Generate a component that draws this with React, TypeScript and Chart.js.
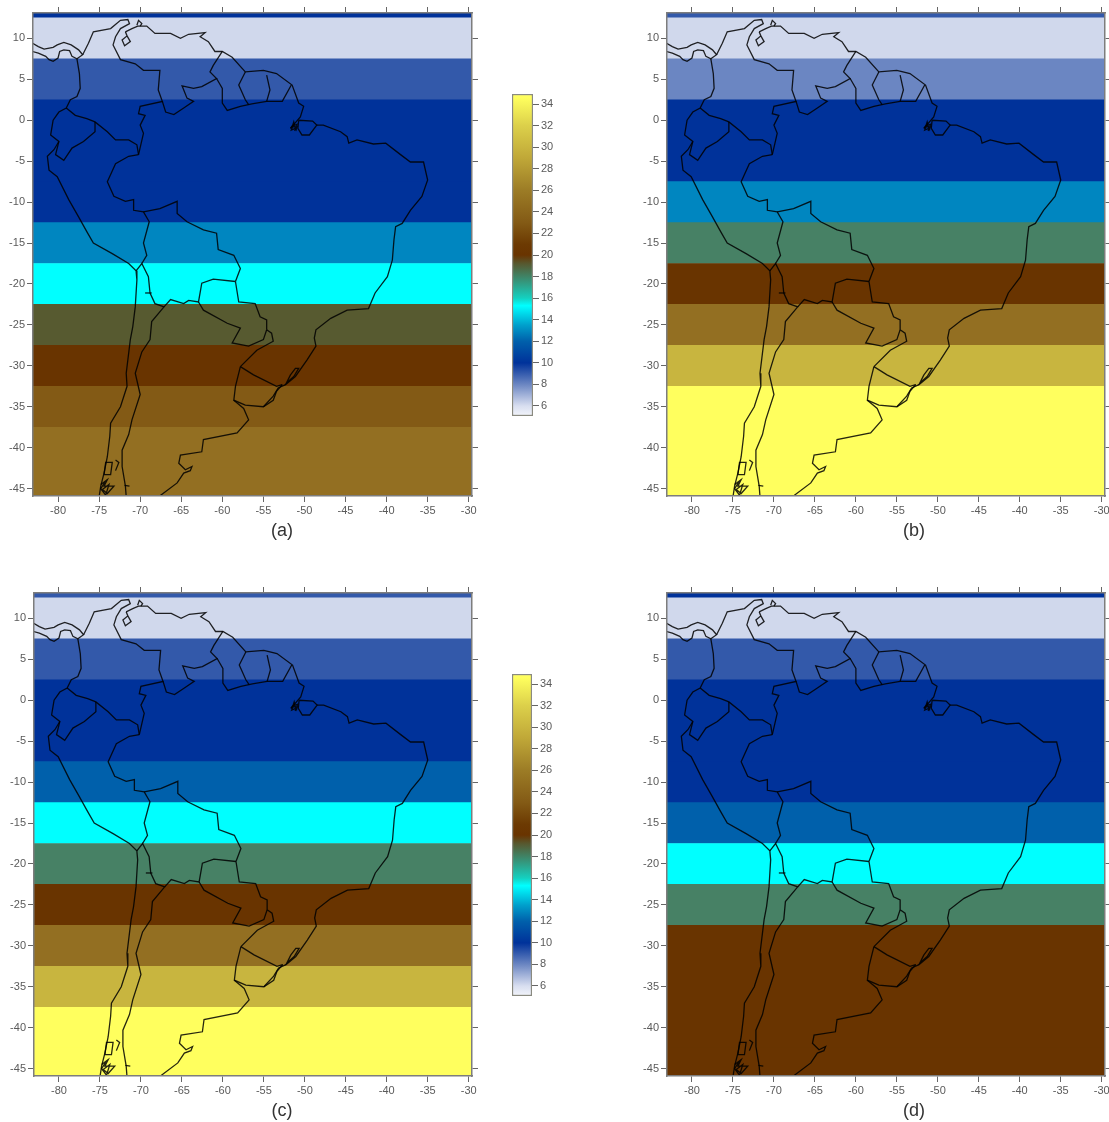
import React, { useEffect, useRef } from "react";
import { Chart, registerables } from "chart.js";

Chart.register(...registerables);

type P = [number, number];

// Latitude of the centre of each 5-degree band
const bandLatitudes = [15, 10, 5, 0, -5, -10, -15, -20, -25, -30, -35, -40, -45];
// Temperature per band, one list per panel
const tempsA = [10, 6, 8, 10, 10, 10, 13, 15, 19, 21, 23, 25, 25];
const tempsB = [8, 6, 7, 10, 10, 13, 18, 21, 25, 30, 35, 35, 35];
const tempsC = [8, 6, 8, 10, 10, 12, 15, 18, 21, 25, 30, 35, 35];
const tempsD = [10, 6, 8, 10, 10, 10, 12, 15, 18, 21, 21, 21, 21];

const tempColors: Record<number, string> = {
  6: "#d0d8ec", 7: "#6b86c2", 8: "#3359aa", 10: "#00329a", 12: "#0060ab", 13: "#0086c0",
  15: "#00ffff", 18: "#478165", 19: "#575a30", 21: "#693400", 23: "#835a15", 25: "#936f22",
  30: "#c8b53f", 35: "#ffff5e",
};

const colorbarTemps = [5.1, 6, 8, 10, 12, 13.5, 15.3, 16, 18, 19.2, 20, 21, 23, 26, 29, 32, 34.6];
const colorbarColors = ["#f2f4fa", "#d8def0", "#6b86c2", "#00329a", "#0060ab", "#00a0cc", "#00ffff", "#14d0c0",
  "#3f8466", "#57582f", "#693400", "#6c3a02", "#835a15", "#9c7c26", "#c0a838", "#dcd04a", "#ffff5e"];

const panama: P[] = [[-83.1,9.4],[-82.4,9.0],[-81.7,8.7],[-80.6,8.9],[-80.1,9.2],[-79.3,9.5],[-78.4,9.2],[-77.5,8.6],[-77.0,8.0],[-77.7,7.5],[-78.3,7.8],[-78.6,8.5],[-79.3,8.6],[-79.8,8.4],[-80.0,7.6],[-80.6,7.2],[-81.1,7.4],[-81.5,7.8],[-82.4,8.2],[-83.1,8.4]];
const pacificCoast: P[] = [[-77.7,7.5],[-77.4,5.7],[-77.3,3.9],[-77.7,2.9],[-78.5,2.5],[-79.0,1.5],[-79.9,1.0],[-80.6,0.0],[-80.9,-1.8],[-79.9,-2.6],[-80.5,-3.6],[-81.3,-4.4],[-81.1,-6.1],[-80.1,-6.9],[-78.7,-9.7],[-77.5,-11.8],[-76.5,-13.6],[-75.7,-15.0],[-73.4,-16.3],[-71.4,-17.5],[-70.5,-18.4],[-70.4,-19.5],[-70.6,-22.8],[-70.9,-25.2],[-71.2,-26.8],[-71.7,-30.9],[-71.6,-32.5],[-72.4,-35.0],[-73.6,-37.0],[-73.7,-38.6],[-74.0,-41.1],[-74.4,-43.1],[-74.8,-44.7],[-75.0,-46]];
const chileBorder: P[] = [[-70.5,-18.4],[-69.8,-17.5],[-69.0,-19.1],[-68.8,-21.1],[-68.2,-22.4],[-67.1,-22.8],[-68.6,-24.6],[-68.8,-26.8],[-69.8,-28.3],[-70.6,-30.9],[-70.0,-33.5],[-71.0,-36.6],[-71.4,-38.4],[-72.2,-40.3],[-72.2,-42.3],[-71.8,-44.7],[-71.7,-46]];
const chileJog: P[] = [[-69.4,-21.1],[-68.6,-21.1]];
const colombiaWest: P[] = [[-77.0,8.0],[-76.3,9.4],[-75.7,10.8],[-73.6,11.2],[-72.4,12.2],[-71.5,12.3],[-71.3,11.8],[-72.4,11.2],[-73.0,10.2],[-73.3,9.2],[-72.4,7.4],[-70.6,6.9],[-69.6,6.1],[-67.6,6.1],[-67.8,3.7],[-67.3,2.3],[-70.0,1.7],[-70.2,0.8],[-69.4,0.6],[-70.0,-0.6],[-69.6,-1.6],[-70.2,-4.2]];
const colombiaSouth: P[] = [[-70.2,-4.2],[-70.4,-3.0],[-71.4,-2.4],[-73.0,-2.4],[-74.0,-1.4],[-75.5,-0.2],[-76.5,0.2],[-77.9,0.6],[-79.0,1.5]];
const ecuadorPeru: P[] = [[-75.5,-0.2],[-75.5,-1.4],[-76.9,-2.6],[-78.3,-3.4],[-79.3,-4.9],[-80.3,-4.2],[-79.9,-2.6]];
const peruBrazil: P[] = [[-70.2,-4.2],[-71.4,-4.4],[-73.0,-5.3],[-74.0,-7.5],[-73.2,-9.3],[-71.8,-9.9],[-70.8,-9.7],[-70.8,-11.0],[-69.6,-11.2],[-68.9,-12.4],[-69.6,-15.0],[-69.2,-16.5],[-69.8,-17.5]];
const boliviaBrazil: P[] = [[-69.6,-11.2],[-67.6,-10.8],[-65.5,-9.9],[-65.5,-11.4],[-64.3,-12.4],[-62.3,-13.4],[-60.7,-13.8],[-60.5,-15.8],[-58.6,-16.5],[-57.8,-18.1],[-58.4,-19.7]];
const boliviaSouth: P[] = [[-58.4,-19.7],[-61.1,-19.4],[-62.5,-19.9],[-62.9,-22.2],[-64.1,-22.0],[-64.7,-22.4],[-66.3,-21.9],[-67.1,-22.8]];
const paraguayEast: P[] = [[-58.4,-19.7],[-58.0,-22.2],[-56.0,-22.4],[-55.4,-24.0],[-54.6,-24.4],[-54.6,-25.6]];
const paraguaySouth: P[] = [[-62.9,-22.2],[-62.3,-23.2],[-59.4,-24.8],[-57.8,-25.4],[-58.8,-27.2],[-56.8,-27.6],[-55.0,-26.8],[-54.6,-25.6]];
const misiones: P[] = [[-54.6,-25.6],[-54.0,-26.0],[-53.8,-27.0],[-55.8,-28.1],[-57.8,-30.1]];
const uruguay: P[] = [[-57.8,-30.1],[-56.2,-31.1],[-53.4,-32.5],[-52.7,-32.3]];
const uruguaySouth: P[] = [[-57.8,-30.1],[-58.4,-32.5],[-58.6,-34.2],[-57.2,-34.8],[-55.0,-35.0],[-53.8,-34.2],[-53.4,-33.1],[-52.7,-32.3]];
const argentinaCoast: P[] = [[-58.6,-34.2],[-57.4,-35.2],[-56.8,-36.6],[-58.2,-38.2],[-62.3,-39.0],[-62.5,-40.5],[-65.1,-40.9],[-65.3,-41.9],[-64.5,-42.7],[-63.7,-42.3],[-63.9,-42.8],[-64.7,-43.1],[-65.5,-44.3],[-67.5,-45.8],[-68.2,-46.4]];
const caribbeanCoast: P[] = [[-71.8,10.8],[-71.0,11.2],[-70.3,11.5],[-69.2,11.5],[-68.2,10.6],[-66.3,10.6],[-65.1,10.0],[-64.1,10.5],[-62.1,10.7],[-62.7,10.2],[-61.7,9.6],[-60.9,8.4],[-60.0,8.4],[-58.8,7.7],[-57.2,5.9],[-55.0,6.1],[-53.4,5.7],[-51.5,4.3],[-50.7,2.1],[-50.1,1.7],[-50.5,0.4],[-51.7,-1.0]];
const atlanticCoast: P[] = [[-48.5,-0.6],[-47.7,-0.6],[-45.6,-1.4],[-44.8,-2.0],[-44.6,-2.8],[-43.6,-2.4],[-41.6,-2.9],[-40.1,-2.8],[-38.3,-4.2],[-37.1,-5.1],[-35.5,-5.1],[-35.0,-7.3],[-35.7,-9.3],[-37.1,-11.0],[-38.1,-12.6],[-38.9,-13.0],[-39.1,-14.6],[-39.3,-17.1],[-39.9,-19.1],[-41.4,-21.1],[-42.2,-23.0],[-44.8,-23.2],[-46.8,-24.2],[-48.6,-25.6],[-48.8,-26.6],[-48.6,-27.6],[-49.7,-29.3],[-51.1,-31.3],[-52.3,-32.3],[-53.2,-32.7],[-53.8,-33.7],[-55.0,-35.0]];
const marajo: P[] = [[-50.7,0.0],[-49.0,-0.1],[-48.5,-0.6],[-49.4,-1.8],[-50.3,-1.8],[-50.8,-1.0],[-50.7,0.0]];
const amazonDelta: P[] = [[-51.7,-1.0],[-51.3,-0.4],[-51.0,-1.1],[-50.9,-0.5],[-51.4,-0.7],[-51.6,-1.2],[-51.1,-1.0],[-51.3,-0.2],[-51.5,-0.8],[-50.9,-0.8],[-51.2,-1.3]];
const patosLagoon: P[] = [[-51.7,-31.1],[-51.1,-30.3],[-50.7,-30.3],[-51.3,-31.3],[-52.2,-32.1],[-51.7,-31.1]];
const venezuelaGuyana: P[] = [[-60.0,8.4],[-61.1,6.7],[-61.5,5.9],[-60.7,5.1],[-62.5,4.1],[-63.5,3.9],[-64.9,4.2],[-64.3,2.7],[-63.5,2.3],[-64.7,1.5],[-65.9,0.7],[-66.9,1.0],[-67.3,2.3]];
const guyanaBrazil: P[] = [[-60.7,5.1],[-60.0,3.9],[-60.0,2.1],[-59.4,1.2],[-57.8,1.7],[-56.4,2.0],[-54.6,2.3],[-52.7,2.3],[-51.6,4.3]];
const guyanaSuriname: P[] = [[-57.2,5.9],[-58.0,4.3],[-57.2,2.5],[-56.8,1.9]];
const surinameGuiana: P[] = [[-54.6,5.5],[-54.2,3.7],[-54.6,2.3]];
const maracaibo: P[] = [[-71.8,10.8],[-71.6,10.3],[-72.2,9.8],[-71.9,9.1],[-71.2,9.6],[-71.6,10.3]];
const paraguana: P[] = [[-70.4,11.6],[-70.2,12.2],[-69.8,11.8],[-70.0,11.5]];
const chiloe: P[] = [[-74.4,-43.3],[-74.2,-41.8],[-73.4,-41.8],[-73.6,-43.3],[-74.4,-43.3]];
const chileFjord: P[] = [[-73.0,-41.5],[-72.6,-41.8],[-73.0,-42.8]];
const chonos: P[] = [[-74.8,-44.5],[-74.0,-43.9],[-74.4,-44.7],[-73.2,-44.7],[-74.0,-45.6],[-74.6,-45.1],[-73.8,-44.5],[-74.2,-45.8],[-74.8,-45.0],[-74.3,-44.2]];
const aysen: P[] = [[-71.3,-44.7],[-71.9,-44.6]];

const outlines: P[][] = [panama, pacificCoast, chileBorder, chileJog, colombiaWest, colombiaSouth, ecuadorPeru, peruBrazil,
  boliviaBrazil, boliviaSouth, paraguayEast, paraguaySouth, misiones, uruguay, uruguaySouth, argentinaCoast, caribbeanCoast,
  atlanticCoast, marajo, amazonDelta, patosLagoon, venezuelaGuyana, guyanaBrazil, guyanaSuriname, surinameGuiana, maracaibo,
  paraguana, chiloe, chileFjord, chonos, aysen];

const LON_MIN = -83.05, LON_MAX = -29.6, LAT_MIN = -45.9, LAT_MAX = 13.1;
const FONT = { family: "'Liberation Sans', Arial, sans-serif", size: 11 };
const TEXT = "#5a5a5a", TICK = "#666", EDGE = "#7d7d7d";
const M = { left: 33, right: 8, top: 13, bottom: 26 };

function Panel({ temps, left, top, w, h }: { temps: number[]; left: number; top: number; w: number; h: number }) {
  const ref = useRef<HTMLCanvasElement>(null);
  useEffect(() => {
    const border = { display: true, color: EDGE, width: 1.5, z: 1 };
    const grid = { drawOnChartArea: false, drawTicks: true, tickLength: 6, color: TICK, offset: false };
    const common = { type: "linear", offset: false, grid, border };
    const chart = new Chart(ref.current!, {
      type: "line",
      data: {
        datasets: [
          {
            type: "bar", indexAxis: "y", order: 2,
            data: bandLatitudes.map((lat) => ({ x: [LON_MIN, LON_MAX], y: lat })),
            backgroundColor: temps.map((t) => tempColors[t]),
            borderWidth: 0, barPercentage: 1, categoryPercentage: 1,
          },
          ...outlines.map((line) => ({
            type: "line", order: 1,
            data: line.map(([x, y]) => ({ x, y })),
            borderColor: "rgba(0,0,0,0.85)", borderWidth: 1.3, pointRadius: 0, tension: 0, fill: false,
          })),
        ],
      } as any,
      options: {
        animation: false, responsive: false,
        layout: { padding: 0 },
        plugins: { legend: { display: false }, tooltip: { enabled: false }, title: { display: false } },
        scales: {
          x: { ...common, position: "bottom", min: LON_MIN, max: LON_MAX,
            afterFit: (s: any) => { s.height = M.bottom; },
            ticks: { stepSize: 5, includeBounds: false, autoSkip: false, maxRotation: 0, font: FONT, color: TEXT, padding: 2 } },
          x2: { ...common, axis: "x", position: "top", min: LON_MIN, max: LON_MAX,
            afterFit: (s: any) => { s.height = M.top; },
            ticks: { stepSize: 5, includeBounds: false, autoSkip: false, display: false } },
          y: { ...common, position: "left", min: LAT_MIN, max: LAT_MAX,
            afterFit: (s: any) => { s.width = M.left; },
            ticks: { stepSize: 5, includeBounds: false, autoSkip: false, font: FONT, color: TEXT, padding: 2 } },
          y2: { ...common, axis: "y", position: "right", min: LAT_MIN, max: LAT_MAX,
            afterFit: (s: any) => { s.width = M.right; },
            ticks: { stepSize: 5, includeBounds: false, autoSkip: false, display: false } },
        },
      } as any,
    });
    return () => chart.destroy();
  }, []);
  return (
    <canvas ref={ref} width={w + M.left + M.right} height={h + M.top + M.bottom}
      style={{ position: "absolute", left: left - M.left, top: top - M.top, filter: "blur(0.6px)" }} />
  );
}

function Colorbar({ left, top, w, h, min, max }: { left: number; top: number; w: number; h: number; min: number; max: number }) {
  const ref = useRef<HTMLCanvasElement>(null);
  useEffect(() => {
    const chart = new Chart(ref.current!, {
      type: "bar",
      data: {
        datasets: [{
          data: [{ x: 0, y: [min, max] }],
          barPercentage: 1, categoryPercentage: 1, borderWidth: 1.5, borderColor: "#8a8a80", borderSkipped: false,
          backgroundColor: (c: any) => {
            const ch = c.chart;
            if (!ch.chartArea) return "#888";
            const y = ch.scales.y;
            const g = ch.ctx.createLinearGradient(0, y.getPixelForValue(min), 0, y.getPixelForValue(max));
            colorbarTemps.forEach((t, i) => {
              const f = (t - min) / (max - min);
              if (f >= 0 && f <= 1) g.addColorStop(f, colorbarColors[i]);
            });
            return g;
          },
        }],
      } as any,
      options: {
        animation: false, responsive: false,
        layout: { padding: { left: 8, top: 10, bottom: 10, right: 0 } },
        plugins: { legend: { display: false }, tooltip: { enabled: false } },
        scales: {
          x: { type: "linear", min: -0.5, max: 0.5, display: false, offset: false, grid: { offset: false } },
          y: { type: "linear", position: "right", min, max, offset: false,
            afterFit: (s: any) => { s.width = 32; },
            grid: { drawOnChartArea: false, tickLength: 6, color: TICK },
            border: { display: false },
            ticks: { stepSize: 2, includeBounds: false, autoSkip: false, font: FONT, color: TEXT, padding: 2 } },
        },
      } as any,
    });
    return () => chart.destroy();
  }, []);
  return (
    <canvas ref={ref} width={8 + w + 32} height={h + 20}
      style={{ position: "absolute", left: left - 8, top: top - 10, filter: "blur(0.6px)" }} />
  );
}

function Caption({ text, x, y }: { text: string; x: number; y: number }) {
  return (
    <div style={{ position: "absolute", left: x - 30, top: y - 12, width: 60, height: 24, lineHeight: "24px", textAlign: "center",
      fontFamily: "'Liberation Sans', Arial, sans-serif", fontSize: 18, color: "#333" }}>{text}</div>
  );
}

export default function App() {
  return (
    <div style={{ position: "absolute", left: 0, top: 0, width: 1109, height: 1122, overflow: "hidden", background: "#fff" }}>
      <Panel temps={tempsA} left={33} top={13} w={439} h={483} />
      <Panel temps={tempsB} left={667} top={13} w={438} h={483} />
      <Panel temps={tempsC} left={34} top={593} w={438} h={483} />
      <Panel temps={tempsD} left={667} top={593} w={438} h={483} />
      <Colorbar left={512} top={94} w={21} h={322} min={5.07} max={34.93} />
      <Colorbar left={512} top={674} w={20} h={322} min={5.07} max={34.93} />
      <Caption text="(a)" x={282} y={530} />
      <Caption text="(b)" x={914} y={530} />
      <Caption text="(c)" x={282} y={1110} />
      <Caption text="(d)" x={914} y={1110} />
    </div>
  );
}
